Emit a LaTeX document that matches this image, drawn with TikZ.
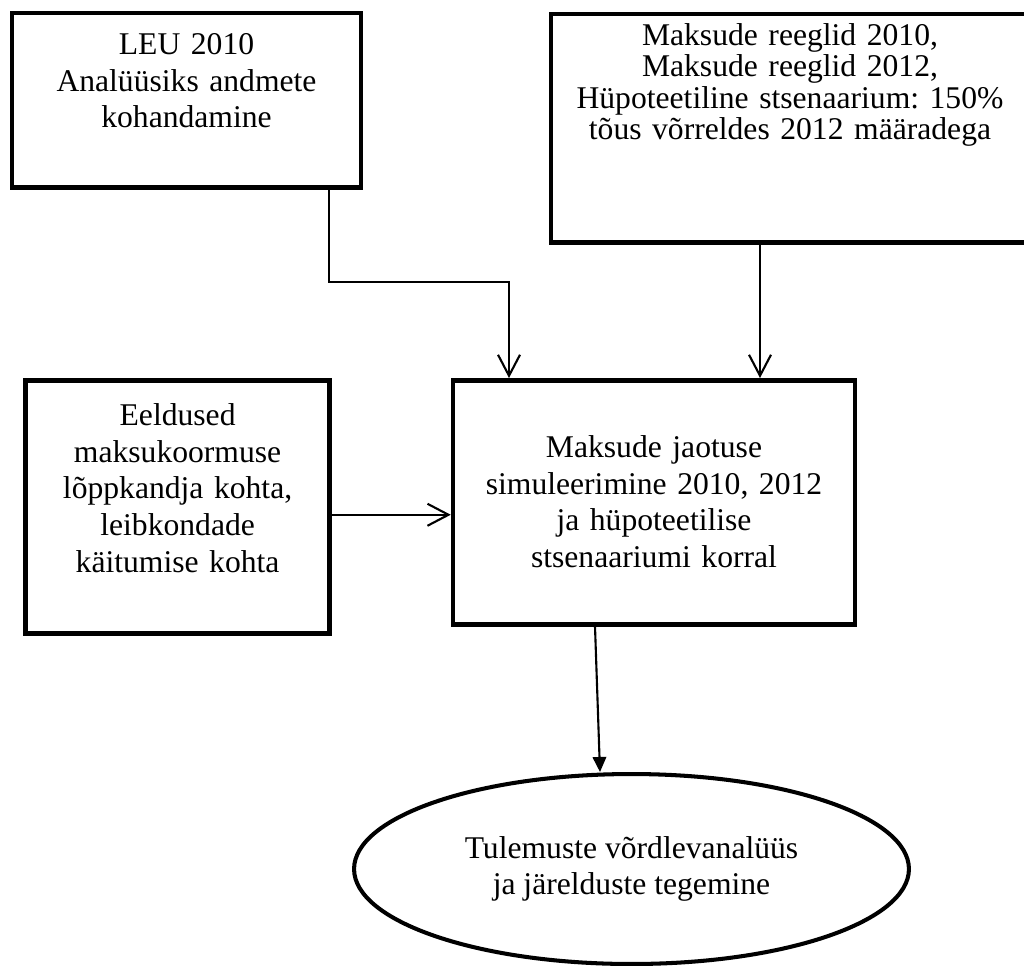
\documentclass[tikz,border=0pt]{standalone}
\usepackage{fontspec}
\setmainfont{Liberation Serif}
\frenchspacing
\usetikzlibrary{calc, positioning, arrows.meta, shapes.geometric}

\begin{document}
\begin{tikzpicture}[x=0.02cm, y=-0.02cm,
    stage/.style={draw, line width=2.6pt, rectangle, inner sep=0pt, align=center, anchor=north,
      font=\fontsize{18pt}{20.9pt}\selectfont},
    link/.style={line width=1.2pt, -{Straight Barb[length=4.2mm, width=4.4mm]}},
    lastlink/.style={line width=1.2pt, -{Triangle[length=3mm, width=2.7mm]}}]
    \useasboundingbox (0,0) rectangle (1024,965);

    % Inputs
    \node[stage, text width=6.98cm, text height=0.83cm, text depth=2.67cm] (leu) at (186.5,10.5)
      {LEU 2010\\Analüüsiks andmete\\kohandamine};
    \node[stage, text width=9.56cm, text height=0.63cm, text depth=3.94cm,
      font=\fontsize{18pt}{17.9pt}\selectfont] (rules) at (790,11.7)
      {Maksude reeglid 2010,\\Maksude reeglid 2012,\\Hüpoteetiline stsenaarium: 150\%\\tõus võrreldes 2012 määradega};
    \node[stage, text width=6.08cm, text height=0.9cm, text depth=4.16cm] (assume) at (177.6,378)
      {Eeldused\\maksukoormuse\\lõppkandja kohta,\\leibkondade\\käitumise kohta};

    % Simulation and result
    \node[stage, text width=8.04cm, text height=1.54cm, text depth=3.34cm] (sim) at (654,378)
      {Maksude jaotuse\\simuleerimine 2010, 2012\\ja hüpoteetilise\\stsenaariumi korral};
    \node[draw, ellipse, line width=2.3pt, minimum width=11.1cm, minimum height=3.8cm, inner sep=0pt,
      align=center, font=\fontsize{18pt}{20.9pt}\selectfont] (result) at (631.5,869)
      {Tulemuste võrdlevanalüüs\\ja järelduste tegemine};

    % Connectors
    \coordinate (bend) at (509,282);
    \draw[link] ($(leu.south)+(142.5,0)$) |- (bend) -- (bend |- sim.north);
    \coordinate (rin) at ($(rules.south)+(-30,0)$);
    \draw[link] (rin) -- (rin |- sim.north);
    \coordinate (ain) at ($(assume.east)+(0,8)$);
    \draw[link] (ain) -- (ain -| sim.west);
    \draw[lastlink] ($(sim.south)+(-59,0)$) -- ($(result.north)+(-31.5,0)$);
\end{tikzpicture}
\end{document}
